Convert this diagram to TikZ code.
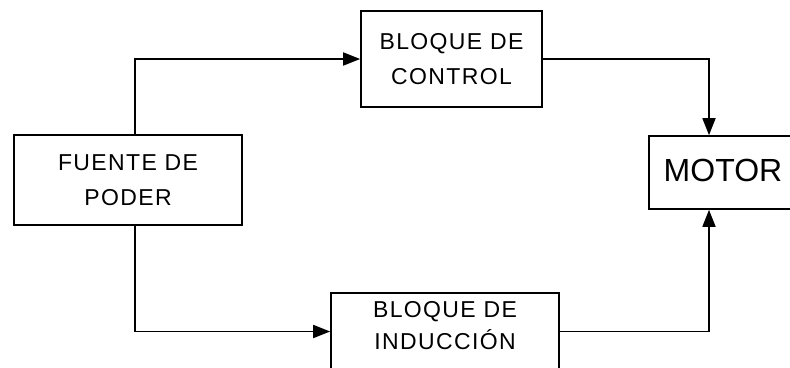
\documentclass[tikz,border=0pt]{standalone}
\usepackage{fontspec}
\setmainfont{Liberation Sans}
\newfontfamily\spacedfont[LetterSpace=6]{Liberation Sans}
\usetikzlibrary{arrows.meta}
\tikzset{
  blockbox/.style={draw=black, line width=1.6pt, inner sep=0pt, align=center,
    font=\spacedfont\fontsize{23}{35}\selectfont},
  conn/.style={draw=black, line width=1.6pt, -{Triangle[length=17pt,width=13pt]}}
}
\begin{document}
\begin{tikzpicture}[x=1pt,y=-1pt]
\useasboundingbox (0,0) rectangle (790,367);
\clip (0,0) rectangle (790,367);
\fill[white] (0,0) rectangle (790,367);
\node[blockbox, minimum width=228pt, minimum height=90pt] (fuente) at (128,180) {FUENTE DE\\PODER};
\node[blockbox, minimum width=181pt, minimum height=96pt] (control) at (451.5,59) {BLOQUE DE\\CONTROL};
\node[blockbox, minimum width=150pt, minimum height=73pt] (motor) at (724,172.5) {};
\node[font=\fontsize{32}{38}\selectfont, inner sep=0pt] (motortxt) at (723,170) {MOTOR};
\node[blockbox, minimum width=228pt, minimum height=77pt] (induccion) at (445,331.5) {};
\node[font=\spacedfont\fontsize{23}{32}\selectfont, align=center, inner sep=0pt] (indtxt) at (445,326) {BLOQUE DE\\INDUCCIÓN};
\draw[conn] ([xshift=7pt]fuente.north) |- (control.west);
\draw[conn] ([xshift=7pt]fuente.south) |- (induccion.west);
\draw[conn] (control.east) -| ([xshift=-15pt]motor.north);
\draw[conn] (induccion.east) -| ([xshift=-15pt]motor.south);
\end{tikzpicture}
\end{document}
